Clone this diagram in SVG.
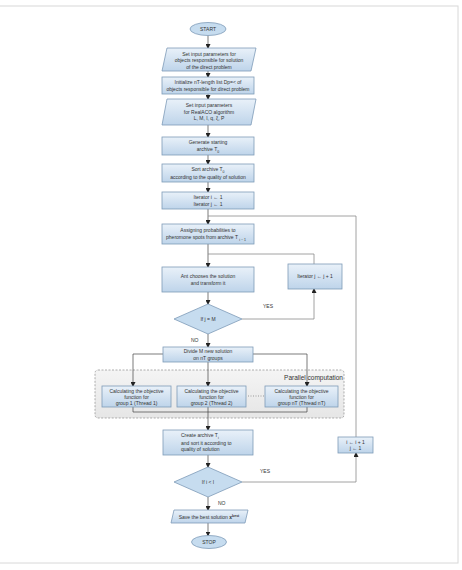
<svg xmlns="http://www.w3.org/2000/svg" width="462" height="570" viewBox="0 0 462 570">
<defs>
<linearGradient id="g" x1="0" y1="0" x2="0" y2="1">
<stop offset="0" stop-color="#e9f1f9"/>
<stop offset="1" stop-color="#bed4ea"/>
</linearGradient>
<linearGradient id="gp" x1="0" y1="0" x2="0" y2="1">
<stop offset="0" stop-color="#f4f4f4"/>
<stop offset="1" stop-color="#e6e6e6"/>
</linearGradient>
<marker id="a" markerWidth="5" markerHeight="5" refX="4" refY="2.5" orient="auto" markerUnits="userSpaceOnUse">
<path d="M0,0 L5,2.5 L0,5 z" fill="#222"/>
</marker>
</defs>
<style>
.b{fill:url(#g);stroke:#7e9bb7;stroke-width:0.8}
.d{fill:#c6dcef;stroke:#7e9bb7;stroke-width:0.8}
.t{font-family:"Liberation Sans",Arial,sans-serif;font-size:5px;fill:#333;text-anchor:middle}
.l{font-family:"Liberation Sans",Arial,sans-serif;font-size:5px;fill:#333}
.c{fill:none;stroke:#444;stroke-width:0.7}
.g{fill:none;stroke:#8a8a8a;stroke-width:0.8}
.s{font-size:3.5px}
</style>
<rect x="-2" y="6" width="460" height="557" fill="#fff" stroke="#d8d8d8" stroke-width="1"/>

<g id="parallel">
<rect x="95" y="370" width="249" height="48" rx="3" fill="url(#gp)" stroke="#8c8c8c" stroke-width="0.7" stroke-dasharray="2,1.5"/>
<text x="343" y="380" font-family="Liberation Sans, Arial, sans-serif" font-size="6.5" fill="#333" text-anchor="end">Parallel computation</text>
</g>

<g id="connectors">
<line class="c" x1="208" y1="35.5" x2="208" y2="48" marker-end="url(#a)"/>
<line class="c" x1="208" y1="71" x2="208" y2="77" marker-end="url(#a)"/>
<line class="c" x1="208" y1="94" x2="208" y2="99" marker-end="url(#a)"/>
<line class="c" x1="208" y1="125" x2="208" y2="137" marker-end="url(#a)"/>
<line class="c" x1="208" y1="155" x2="208" y2="164" marker-end="url(#a)"/>
<line class="c" x1="208" y1="182" x2="208" y2="192" marker-end="url(#a)"/>
<line class="c" x1="208" y1="209" x2="208" y2="224" marker-end="url(#a)"/>
<line class="c" x1="208" y1="244" x2="208" y2="267" marker-end="url(#a)"/>
<line class="c" x1="208" y1="292" x2="208" y2="304" marker-end="url(#a)"/>
<polyline class="g" points="242,319 314,319 314,289" marker-end="url(#a)"/>
<polyline class="g" points="314,264 314,254 208,254"/>
<line class="c" x1="208" y1="334" x2="208" y2="347" marker-end="url(#a)"/>
<polyline class="c" points="163,354 133,354 133,386" marker-end="url(#a)"/>
<polyline class="c" points="253,354 307,354 307,386" marker-end="url(#a)"/>
<line class="c" x1="208" y1="362" x2="208" y2="386" marker-end="url(#a)"/>
<line x1="248" y1="396" x2="264" y2="396" stroke="#777" stroke-width="0.7" stroke-dasharray="1,1.5"/>
<polyline class="c" points="133,407 133,412 208,412"/>
<polyline class="c" points="307,407 307,412 208,412"/>
<line class="c" x1="208" y1="407" x2="208" y2="430" marker-end="url(#a)"/>
<line class="c" x1="208" y1="455" x2="208" y2="467" marker-end="url(#a)"/>
<polyline class="g" points="242,482 356,482 356,453" marker-end="url(#a)"/>
<polyline class="g" points="356,437 356,216 208,216"/>
<line class="c" x1="208" y1="497" x2="208" y2="510" marker-end="url(#a)"/>
<line class="c" x1="208" y1="523" x2="208" y2="535.5" marker-end="url(#a)"/>
<text class="l" x="263" y="308">YES</text>
<text class="l" x="191" y="342">NO</text>
<text class="l" x="260" y="473">YES</text>
<text class="l" x="218" y="505">NO</text>
</g>

<g id="start">
<ellipse class="d" cx="208" cy="29" rx="18" ry="6.5"/>
<text class="t" x="208" y="31">START</text>
</g>
<g id="input1">
<polygon class="b" points="167,48 256,48 251,71 162,71"/>
<text class="t" x="209" y="55.5">Set input parameters for</text>
<text class="t" x="209" y="62">objects responsible for solution</text>
<text class="t" x="209" y="68.5">of the direct problem</text>
</g>
<g id="init">
<rect class="b" x="162" y="77" width="92" height="17"/>
<text class="t" x="208" y="84">Initialize nT-length list Dp=&lt; of</text>
<text class="t" x="208" y="91">objects responsible for direct problem</text>
</g>
<g id="input2">
<polygon class="b" points="167,99 256,99 251,125 162,125"/>
<text class="t" x="209" y="107">Set input parameters</text>
<text class="t" x="209" y="113.5">for RealACO algorithm</text>
<text class="t" x="209" y="120">L, M, I, q, ξ, P</text>
</g>
<g id="generate">
<rect class="b" x="162" y="137" width="92" height="18"/>
<text class="t" x="208" y="144">Generate starting</text>
<text class="t" x="208" y="151">archive T<tspan class="s" dy="1.5">0</tspan></text>
</g>
<g id="sort">
<rect class="b" x="162" y="164" width="92" height="18"/>
<text class="t" x="208" y="171">Sort archive T<tspan class="s" dy="1.5">0</tspan></text>
<text class="t" x="208" y="178.5">according to the quality of solution</text>
</g>
<g id="iter">
<rect class="b" x="162" y="192" width="92" height="17"/>
<text class="t" x="208" y="199">Iterator i ← 1</text>
<text class="t" x="208" y="205.5">Iterator j ← 1</text>
</g>
<g id="assign">
<rect class="b" x="162" y="224" width="92" height="20"/>
<text class="t" x="208" y="232">Assigning probabilities to</text>
<text class="t" x="206" y="239">pheromone spots from archive T <tspan class="s" dy="1.5">i − 1</tspan></text>
</g>
<g id="ant">
<rect class="b" x="162" y="267" width="92" height="25"/>
<text class="t" x="208" y="278">Ant chooses the solution</text>
<text class="t" x="208" y="284.5">and transform it</text>
</g>
<g id="iterj">
<rect class="b" x="288" y="264" width="54" height="25"/>
<text class="t" x="315" y="278">Iterator j ← j + 1</text>
</g>
<g id="ifj">
<polygon class="d" points="208,304 242,319 208,334 174,319"/>
<text class="t" x="208" y="321">If j = M</text>
</g>
<g id="divide">
<rect class="b" x="163" y="347" width="90" height="15"/>
<text class="t" x="208" y="353">Divide M new solution</text>
<text class="t" x="208" y="359.5">on nT groups</text>
</g>
<g id="thread1">
<rect class="b" x="102" y="386" width="69" height="21"/>
<text class="t" x="136.5" y="392.5">Calculating the objective</text>
<text class="t" x="136.5" y="398.5">function for</text>
<text class="t" x="136.5" y="404.5">group 1 (Thread 1)</text>
</g>
<g id="thread2">
<rect class="b" x="177" y="386" width="69" height="21"/>
<text class="t" x="211.5" y="392.5">Calculating the objective</text>
<text class="t" x="211.5" y="398.5">function for</text>
<text class="t" x="211.5" y="404.5">group 2 (Thread 2)</text>
</g>
<g id="threadnT">
<rect class="b" x="265" y="386" width="73" height="21"/>
<text class="t" x="301.5" y="392.5">Calculating the objective</text>
<text class="t" x="301.5" y="398.5">function for</text>
<text class="t" x="301.5" y="404.5">group nT (Thread nT)</text>
</g>
<g id="create">
<rect class="b" x="163" y="430" width="90" height="25"/>
<text class="l" x="181" y="437">Create archive T<tspan class="s" dy="1.5">i</tspan></text>
<text class="l" x="181" y="444.5">and sort it according to</text>
<text class="l" x="181" y="451">quality of solution</text>
</g>
<g id="ifi">
<polygon class="d" points="208,467 242,482 208,497 174,482"/>
<text class="t" x="208" y="484">If i &lt; I</text>
</g>
<g id="inc">
<rect class="b" x="338" y="437" width="35" height="16"/>
<text class="t" x="355.5" y="443.5">i ← i + 1</text>
<text class="t" x="355.5" y="450">j ← 1</text>
</g>
<g id="save">
<polygon class="b" points="174,510 248,510 245,523 171,523"/>
<text class="t" x="209" y="518.5">Save the best solution  <tspan font-weight="bold">x</tspan><tspan class="s" font-weight="bold" dy="-2">best</tspan></text>
</g>
<g id="stop">
<ellipse class="d" cx="209" cy="542" rx="17.5" ry="6.5"/>
<text class="t" x="209" y="544">STOP</text>
</g>
</svg>
